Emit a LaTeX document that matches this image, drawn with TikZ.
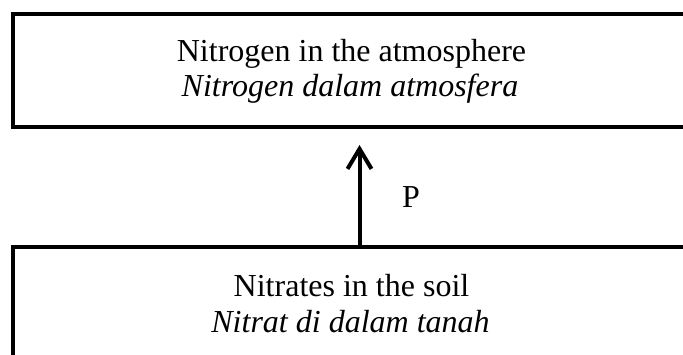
\documentclass[tikz,border=0pt]{standalone}
\usepackage{fontspec}
\setmainfont{Liberation Serif}
\usetikzlibrary{arrows.meta}
\tikzset{
  box/.style={draw=black, line width=4pt, rectangle, inner sep=0pt, outer sep=0pt},
  lbl/.style={font=\fontsize{32}{36}\selectfont, inner sep=0pt, anchor=base},
  arr/.style={line width=4pt, -{Straight Barb[length=20pt,width=24pt,line width=4pt]}}
}
\begin{document}
\begin{tikzpicture}[x=1pt,y=-1pt]
\useasboundingbox (0,0) rectangle (683,355);
\node[box, minimum width=692pt, minimum height=113pt] (atm) at (359,70.5) {};
\node[box, minimum width=692pt, minimum height=200pt] (soil) at (359,347.5) {};
\node[lbl] (atmen) at (351.5,62) {Nitrogen in the atmosphere};
\node[lbl] (atmms) at (350,97) {\itshape Nitrogen dalam atmosfera};
\node[lbl] (soilen) at (351.5,297) {Nitrates in the soil};
\node[lbl] (soilms) at (350.5,333) {\itshape Nitrat di dalam tanah};
\coordinate (tip) at (359.5,145);
\draw[arr] (soil.north -| tip) -- (tip);
\node[lbl] (p) at (411,208) {P};
\end{tikzpicture}
\end{document}
